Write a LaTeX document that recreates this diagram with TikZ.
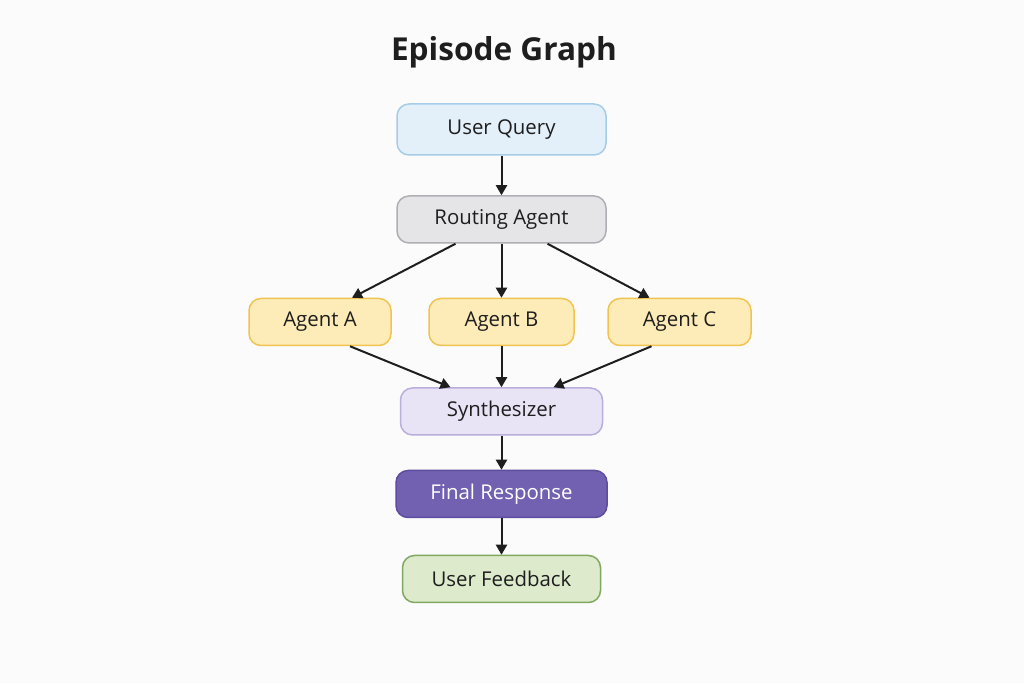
\documentclass[tikz,border=0pt]{standalone}
\usepackage{fontspec}
\setmainfont{Open Sans}
\usepackage{tikz}
\usetikzlibrary{arrows.meta, calc}
\definecolor{bg}{RGB}{251, 251, 251}
\definecolor{qfill}{RGB}{227, 240, 250}
\definecolor{qdraw}{RGB}{166, 204, 232}
\definecolor{rfill}{RGB}{229, 229, 232}
\definecolor{rdraw}{RGB}{174, 174, 180}
\definecolor{afill}{RGB}{253, 236, 183}
\definecolor{adraw}{RGB}{241, 195, 82}
\definecolor{sfill}{RGB}{232, 228, 246}
\definecolor{sdraw}{RGB}{186, 174, 221}
\definecolor{ffill}{RGB}{114, 96, 176}
\definecolor{fdraw}{RGB}{94, 76, 160}
\definecolor{ufill}{RGB}{221, 234, 204}
\definecolor{udraw}{RGB}{128, 168, 97}
\definecolor{ink}{RGB}{30, 30, 30}

\tikzset{
  box/.style={rounded corners=6pt, line width=0.75pt, minimum height=23.5pt,
    font=\fontsize{10.2}{12}\selectfont, text=ink, inner sep=0pt},
  flow/.style={-{Triangle[length=5pt, width=5.5pt]}, line width=1pt, ink}
}

\begin{document}
\begin{tikzpicture}[x=0.5pt, y=-0.5pt]

  \fill[bg] (0, 0) rectangle (1024, 683);
  \useasboundingbox (0, 0) rectangle (1024, 683);

  \node[font=\fontsize{15.8}{18}\selectfont\bfseries, text=ink] (title) at (504, 52) {Episode Graph};

  \node[box, fill=qfill, draw=qdraw, minimum width=104.5pt, minimum height=25.5pt] (uq) at (501.5, 129.5) {User Query};
  \node[box, fill=rfill, draw=rdraw, minimum width=104.5pt] (ra) at (501.5, 219.5) {Routing Agent};

  \node[box, fill=afill, draw=adraw, minimum width=71pt] (aa) at (320, 322) {Agent A};
  \node[box, fill=afill, draw=adraw, minimum width=72.5pt] (ab) at (501.5, 322) {Agent B};
  \node[box, fill=afill, draw=adraw, minimum width=71.5pt] (ac) at (679.5, 322) {Agent C};

  \node[box, fill=sfill, draw=sdraw, minimum width=101pt] (syn) at (501.5, 411.5) {Synthesizer};
  \node[box, fill=ffill, draw=fdraw, text=white, minimum width=105.5pt] (fr) at (501.5, 494) {Final Response};
  \node[box, fill=ufill, draw=udraw, minimum width=99pt] (uf) at (501.5, 579) {User Feedback};

  % edges
  \draw[flow] (uq) -- (ra);
  \draw[flow] ($(ra.south)+(-46, 0)$) -- ($(aa.north)+(32, 0)$);
  \draw[flow] (ra) -- (ab);
  \draw[flow] ($(ra.south)+(46, 0)$) -- ($(ac.north)+(-30, 0)$);

  \draw[flow] ($(aa.south)+(30, 0)$) -- ($(syn.north)+(-51, 0)$);
  \draw[flow] (ab) -- (syn);
  \draw[flow] ($(ac.south)+(-28, 0)$) -- ($(syn.north)+(52, 0)$);

  \draw[flow] (syn) -- (fr);
  \draw[flow] (fr) -- (uf);

\end{tikzpicture}
\end{document}
